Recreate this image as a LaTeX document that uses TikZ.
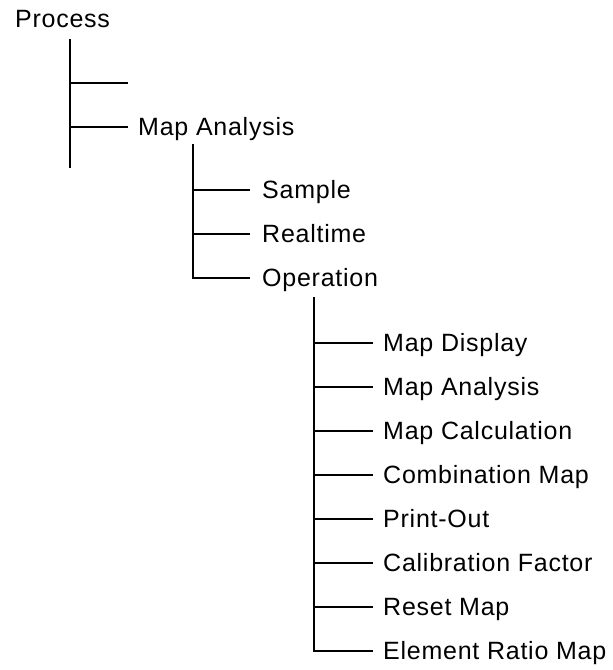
\documentclass[tikz,border=0pt]{standalone}
\usepackage{fontspec}
\setmainfont[LetterSpace=3.0]{Liberation Sans}
\begin{document}
\begin{tikzpicture}[x=1pt,y=-1pt,
  treeline/.style={line width=1.4pt,line cap=rect},
  label/.style={anchor=base west,inner sep=0pt,font=\fontsize{25}{29}\selectfont}]
\useasboundingbox (0,0) rectangle (613,670);
% texts
\node[label] (proc) at (15,27) {Process};
\node[label] (ma) at (138,135) {Map Analysis};
\node[label] (samp) at (262,198) {Sample};
\node[label] (real) at (262,242) {Realtime};
\node[label] (oper) at (262,286) {Operation};
\foreach \n/\t [count=\i from 0] in {md/Map Display,man/Map Analysis,mc/Map Calculation,cm/Combination Map,po/Print-Out,cf/Calibration Factor,rm/Reset Map,erm/Element Ratio Map}{
  \node[label] (\n) at (383,{351+44*\i}) {\t};
}
% level 1
\coordinate (l1top) at (70,40);
\coordinate (l1bot) at (70,167);
\coordinate (l1a) at (70,83);
\coordinate (l1ae) at (127,83);
\coordinate (l1b) at (70,127);
\coordinate (l1be) at (127,127);
\draw[treeline] (l1top) -- (l1bot);
\draw[treeline] (l1a) -- (l1ae);
\draw[treeline] (l1b) -- (l1be);
% level 2
\coordinate (l2top) at (193,145);
\draw[treeline] (l2top) -- (193,278) -- (249,278);
\draw[treeline] (193,190) -- (249,190);
\draw[treeline] (193,234) -- (249,234);
% level 3
\coordinate (l3top) at (314,298);
\draw[treeline] (l3top) -- (314,651) -- (372,651);
\foreach \i in {0,...,6}{
  \draw[treeline] (314,{343+44*\i}) -- (372,{343+44*\i});
}
\end{tikzpicture}
\end{document}
